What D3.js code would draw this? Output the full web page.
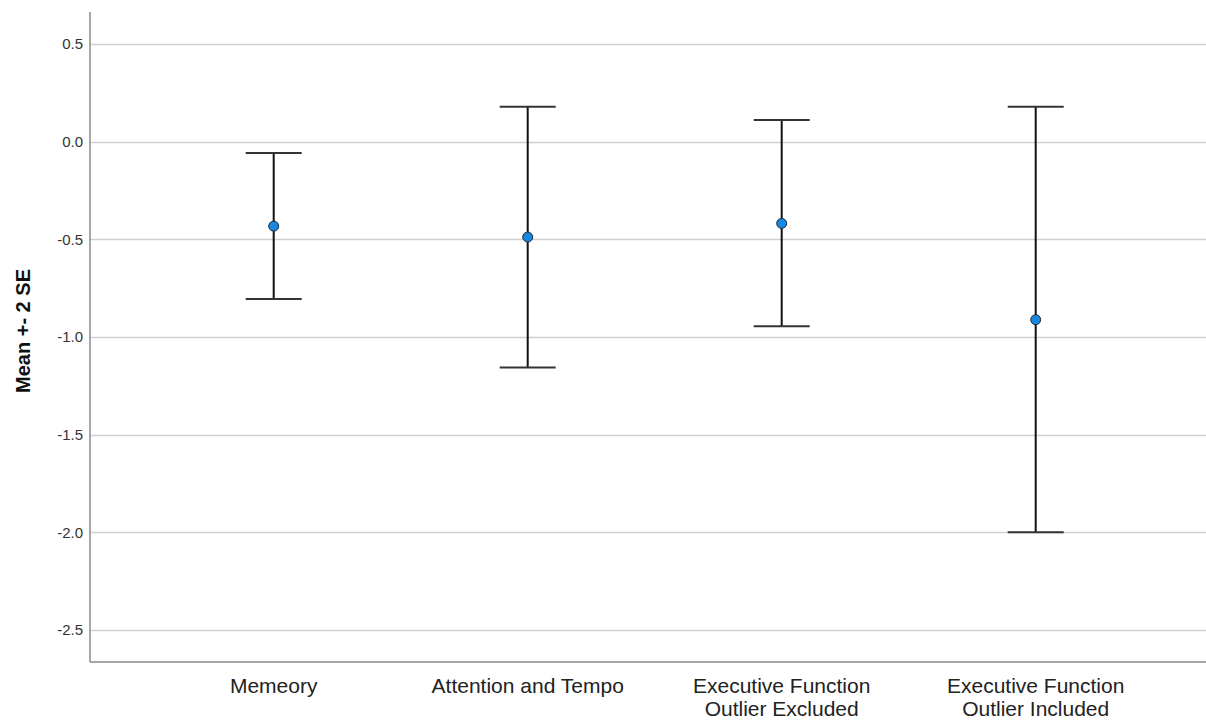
<!DOCTYPE html>
<html>
<head>
<meta charset="utf-8">
<script src="https://cdn.jsdelivr.net/npm/d3@7"></script>
<style>
  body { margin: 0; background: #fff; }
  svg { display: block; font-family: "Liberation Sans", Arial, sans-serif; }
</style>
</head>
<body>
<svg id="chart"></svg>
<script>
// Chart data
const categories = [
    ["Memeory"],
    ["Attention and Tempo"],
    ["Executive Function", "Outlier Excluded"],
    ["Executive Function", "Outlier Included"]
];
const means = [-0.432, -0.488, -0.418, -0.911];
const upper = [-0.058, 0.179, 0.111, 0.179];
const lower = [-0.805, -1.155, -0.945, -1.999];
const yTicks = [0.5, 0.0, -0.5, -1.0, -1.5, -2.0, -2.5];

const width = 1206;
const height = 722;
const plotLeft = 90;
const plotTop = 12;
const plotBottom = 662;

const data = categories.map((c, i) => ({
    key: c.join(" "),
    lines: c,
    mean: means[i],
    hi: upper[i],
    lo: lower[i]
}));

const svg = d3.select("#chart")
    .attr("width", width)
    .attr("height", height)
    .attr("viewBox", [0, 0, width, height]);

const x = d3.scaleBand(data.map(d => d.key), [146.7, 1162.7]);
const y = d3.scaleLinear([-2.663, 0.664], [plotBottom, plotTop]);

// grid lines
svg.append("g")
    .selectAll("line")
    .data(yTicks)
    .join("line")
    .attr("x1", plotLeft)
    .attr("x2", width)
    .attr("y1", d => Math.round(y(d)) + 0.5)
    .attr("y2", d => Math.round(y(d)) + 0.5)
    .attr("stroke", "#cfcfcf")
    .attr("stroke-width", 1.5);

// y axis (plain hyphen for negatives, like the original)
svg.append("g")
    .attr("transform", `translate(${plotLeft},0)`)
    .call(d3.axisLeft(y).tickValues(yTicks).tickFormat(d => d.toFixed(1)).tickSize(0).tickPadding(7))
    .call(g => g.select(".domain").remove())
    .call(g => g.selectAll(".tick text")
        .attr("font-size", 15)
        .attr("font-family", "Liberation Sans, Arial, sans-serif")
        .attr("fill", "#333"));

svg.append("line")
    .attr("x1", plotLeft).attr("x2", plotLeft)
    .attr("y1", plotTop).attr("y2", plotBottom)
    .attr("stroke", "#8a8a8a")
    .attr("stroke-width", 1.5);

svg.append("line")
    .attr("x1", plotLeft).attr("x2", width)
    .attr("y1", plotBottom).attr("y2", plotBottom)
    .attr("stroke", "#8a8a8a")
    .attr("stroke-width", 1.5);

// y axis title
svg.append("text")
    .attr("transform", `translate(30,331) rotate(-90)`)
    .attr("text-anchor", "middle")
    .attr("font-size", 20)
    .attr("font-weight", "bold")
    .attr("fill", "#111")
    .text("Mean +- 2 SE");

// category labels
const cx = d => x(d.key) + x.bandwidth() / 2;

svg.append("g")
    .selectAll("text")
    .data(data)
    .join("text")
    .attr("x", cx)
    .attr("y", 693)
    .attr("text-anchor", "middle")
    .attr("font-size", 21)
    .attr("fill", "#222")
    .selectAll("tspan")
    .data(d => d.lines.map(l => ({ l, x: cx(d) })))
    .join("tspan")
    .attr("x", t => t.x)
    .attr("dy", (t, i) => i === 0 ? 0 : 23)
    .text(t => t.l);

// error bars
const bars = svg.append("g")
    .selectAll("g")
    .data(data)
    .join("g");

bars.append("line")
    .attr("x1", cx).attr("x2", cx)
    .attr("y1", d => y(d.hi)).attr("y2", d => y(d.lo))
    .attr("stroke", "#111")
    .attr("stroke-width", 2);

const capHalf = 28;
for (const key of ["hi", "lo"]) {
    bars.append("line")
        .attr("x1", d => cx(d) - capHalf)
        .attr("x2", d => cx(d) + capHalf)
        .attr("y1", d => y(d[key]))
        .attr("y2", d => y(d[key]))
        .attr("stroke", "#333")
        .attr("stroke-width", 2);
}

bars.append("circle")
    .attr("cx", cx)
    .attr("cy", d => y(d.mean))
    .attr("r", 5)
    .attr("fill", "#1787e0")
    .attr("stroke", "#1b2a3a")
    .attr("stroke-width", 1);
</script>
</body>
</html>
